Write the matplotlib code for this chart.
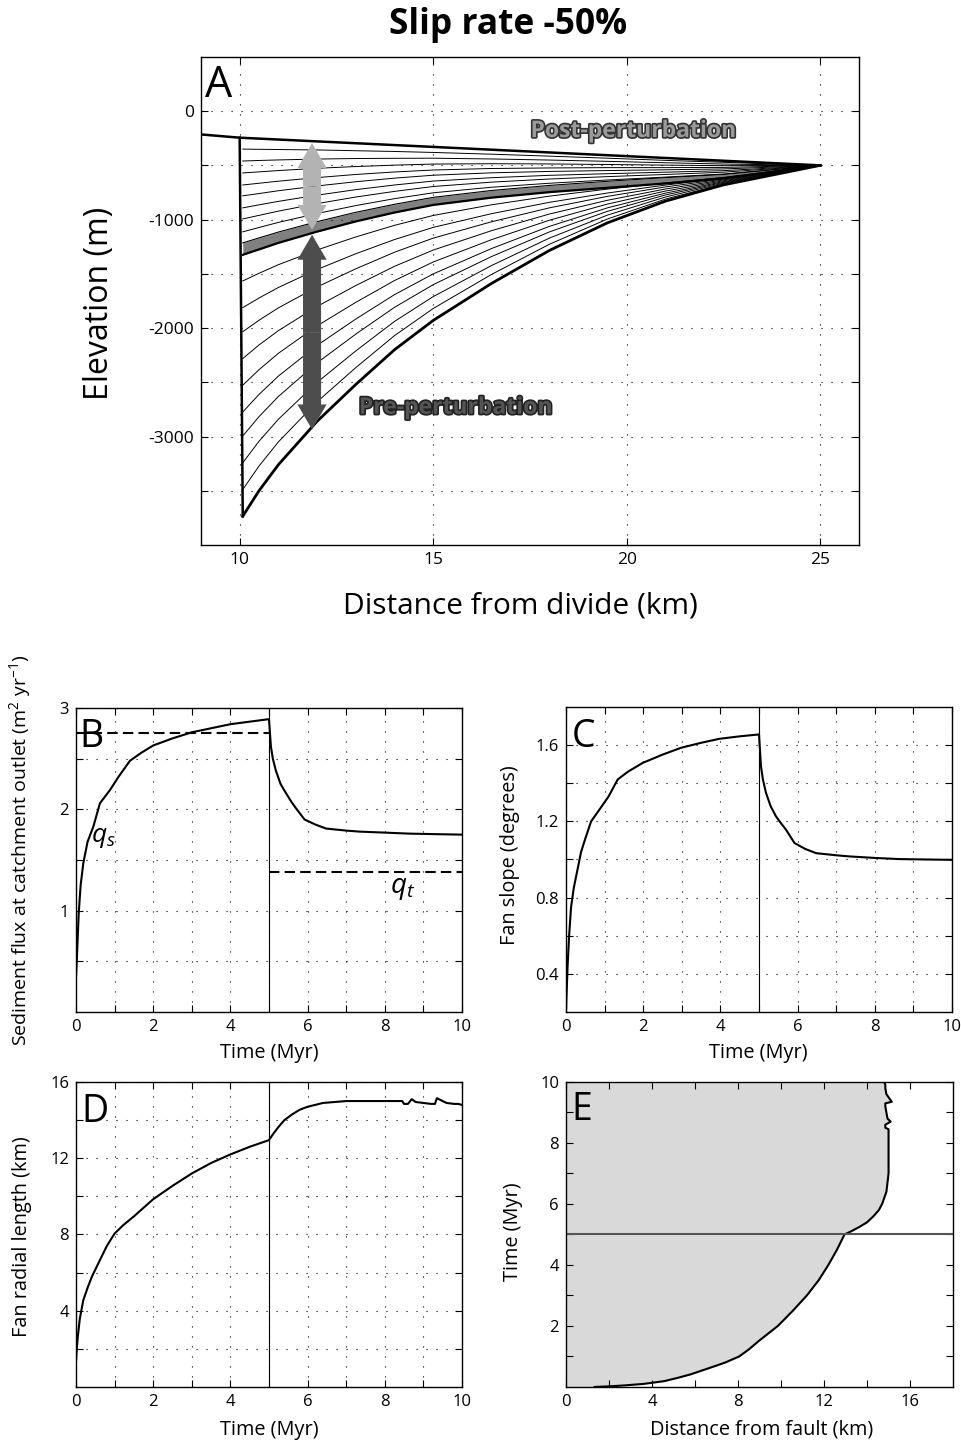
import numpy as np
import matplotlib
matplotlib.use('Agg')
import matplotlib.pyplot as plt
import matplotlib.patheffects as pe
from matplotlib.patches import FancyArrowPatch

plt.rcParams['font.family'] = 'Open Sans'
plt.rcParams['mathtext.fontset'] = 'custom'
plt.rcParams['mathtext.rm'] = 'Open Sans'
plt.rcParams['mathtext.it'] = 'Open Sans:italic'
plt.rcParams['axes.unicode_minus'] = False

# ---- panel A : long profiles (elevation in m at each distance station, km)
dist_km = [10.08, 10.5, 11, 12, 13, 14, 15, 16.5, 18, 19.5, 21, 22.5, 25]

# pre-perturbation profiles, first one is the initial (thick) profile
pre_profiles = [
    [-3735, -3500, -3260, -2860, -2520, -2200, -1930, -1590, -1285, -1030, -830, -680, -500],
    [-3489, -3272, -3050, -2680, -2365, -2070, -1820, -1507, -1228, -995, -811, -672, -500],
    [-3242, -3044, -2841, -2501, -2211, -1939, -1710, -1425, -1171, -959, -792, -664, -500],
    [-2995, -2817, -2631, -2321, -2056, -1809, -1600, -1342, -1114, -924, -773, -657, -500],
    [-2774, -2612, -2443, -2160, -1917, -1692, -1501, -1268, -1063, -892, -756, -650, -500],
    [-2527, -2384, -2233, -1980, -1763, -1562, -1391, -1186, -1006, -857, -737, -642, -500],
    [-2281, -2156, -2024, -1801, -1608, -1431, -1281, -1103, -949, -822, -718, -634, -500],
    [-2034, -1928, -1814, -1621, -1454, -1301, -1171, -1021, -892, -786, -699, -626, -500],
    [-1812, -1723, -1626, -1460, -1315, -1184, -1072, -946, -841, -755, -682, -619, -500],
    [-1566, -1495, -1416, -1280, -1160, -1053, -962, -864, -784, -719, -663, -611, -500],
]
# profile at the time of the perturbation (grey band)
band_top = [-1215, -1169, -1115, -1019, -933, -859, -795, -732, -685, -647, -613, -584, -500]
band_bot = [-1325, -1275, -1215, -1111, -1017, -935, -865, -798, -747, -707, -667, -620, -500]
# post-perturbation profiles
post_profiles = [
    [-1113, -1073, -1026, -944, -871, -807, -753, -702, -665, -635, -608, -580, -500],
    [-994, -961, -922, -853, -792, -740, -695, -655, -626, -604, -584, -563, -500],
    [-892, -864, -832, -775, -724, -681, -645, -614, -592, -577, -563, -549, -500],
    [-781, -760, -734, -690, -651, -618, -591, -569, -556, -548, -541, -533, -500],
    [-681, -665, -646, -613, -584, -561, -543, -529, -524, -521, -521, -519, -500],
    [-570, -560, -548, -527, -511, -498, -488, -485, -487, -492, -498, -503, -500],
    [-460, -455, -450, -442, -437, -435, -434, -441, -451, -463, -476, -488, -500],
    [-350, -352, -354, -358, -365, -372, -381, -397, -415, -434, -454, -472, -500],
]
final_x = [9, 10.0, 25]
final_z = [-215, -245, -500]
fault_x = [10.0, 10.08]
fault_z = [-245, -3735]

# ---- panel B : sediment flux
qs_time = [0, 0.02, 0.07, 0.12, 0.19, 0.3, 0.45, 0.62, 0.88, 1.1, 1.4, 1.7, 2.0,
           2.5, 3.0, 3.5, 4.0, 4.5, 5.0, 5.05, 5.1, 5.18, 5.3, 5.44, 5.57, 5.7,
           5.92, 6.2, 6.48, 7.0, 7.34, 8.0, 8.64, 9.3, 10.0]
qs_value = [0.35, 0.5, 0.97, 1.25, 1.47, 1.68, 1.83, 2.06, 2.19, 2.32, 2.48, 2.56,
            2.63, 2.70, 2.76, 2.80, 2.84, 2.865, 2.89, 2.62, 2.5, 2.38, 2.25, 2.16,
            2.08, 2.01, 1.9, 1.85, 1.81, 1.79, 1.78, 1.77, 1.76, 1.755, 1.75]
qt_pre = 2.75
qt_post = 1.38
t_perturb = 5.0
t_end = 10.0

# ---- panel C : fan slope
slope_time = [0, 0.02, 0.04, 0.08, 0.13, 0.2, 0.26, 0.39, 0.5, 0.65, 0.86, 1.1, 1.34,
              1.6, 1.99, 2.5, 2.98, 3.5, 3.97, 4.5, 5.0, 5.05, 5.1, 5.18, 5.3, 5.44,
              5.57, 5.7, 5.92, 6.2, 6.48, 7.0, 7.34, 8.0, 8.64, 9.3, 10.0]
slope_deg = [0.21, 0.33, 0.44, 0.6, 0.75, 0.85, 0.91, 1.04, 1.11, 1.2, 1.26, 1.33, 1.42,
             1.46, 1.507, 1.55, 1.586, 1.612, 1.633, 1.646, 1.656, 1.49, 1.42, 1.35,
             1.28, 1.226, 1.19, 1.156, 1.086, 1.055, 1.033, 1.022, 1.016, 1.008,
             1.002, 1.0, 0.998]

# ---- panels D and E : fan radial length
fan_time = [0, 0.02, 0.05, 0.1, 0.19, 0.3, 0.41, 0.62, 0.8, 1.0, 1.23, 1.5, 2.0, 2.5,
            3.0, 3.5, 4.0, 4.5, 5.0, 5.1, 5.25, 5.4, 5.6, 5.8, 6.0, 6.2, 6.4, 6.7,
            7.0, 7.5, 8.0, 8.45, 8.5, 8.6, 8.7, 8.8, 9.0, 9.2, 9.3, 9.35, 9.45, 9.6,
            9.8, 9.9, 10.0]
fan_length = [1.33, 2.0, 2.7, 3.6, 4.56, 5.2, 5.78, 6.66, 7.4, 8.05, 8.5, 8.95, 9.85,
              10.55, 11.2, 11.75, 12.2, 12.6, 12.95, 13.25, 13.65, 14.0, 14.3, 14.55,
              14.7, 14.8, 14.9, 14.95, 15.0, 15.0, 15.0, 15.0, 14.85, 14.85, 15.1,
              14.95, 14.9, 14.85, 14.85, 15.15, 15.05, 14.9, 14.85, 14.85, 14.8]


def matlab_style(ax, xticks, xlabels, yticks, ylabels, size=12, grid=True):
    ax.set_xticks(xticks)
    ax.set_xticklabels(xlabels)
    ax.set_yticks(yticks)
    ax.set_yticklabels(ylabels)
    ax.tick_params(direction='in', top=True, right=True, length=5, width=0.8,
                   labelsize=size, pad=5)
    if grid:
        ax.grid(True, color='k', linestyle=(0, (1, 8)), linewidth=0.8)
    for s in ax.spines.values():
        s.set_linewidth(1.0)


def lab(values, shown, fmt='{:g}'):
    return [fmt.format(v) if any(abs(v - s) < 1e-9 for s in shown) else '' for v in values]


fig = plt.figure(figsize=(9.62, 14.44), dpi=100)
fig.text(0.528, 1 - 25 / 1444, 'Slip rate -50%', ha='center', va='center',
         fontsize=25.5, fontweight='bold')

# ---------------- A
axA = fig.add_axes([0.2089, 0.6226, 0.684, 0.338])
for prof in pre_profiles[1:]:
    axA.plot(dist_km, prof, 'k', lw=0.7)
for prof in post_profiles:
    axA.plot(dist_km, prof, 'k', lw=0.7)
axA.fill_between(dist_km, band_bot, band_top, color='#808080', lw=0)
axA.plot(dist_km, band_bot, 'k', lw=1.6)
axA.plot(dist_km, band_top, 'k', lw=0.8)
axA.plot(dist_km, pre_profiles[0], 'k', lw=2.0)
axA.plot(final_x, final_z, 'k', lw=1.8)
axA.plot(fault_x, fault_z, 'k', lw=1.8)


def double_arrow(ax, x, y0, y1, color):
    ym = 0.5 * (y0 + y1)
    for yt in (y0, y1):
        ax.add_patch(FancyArrowPatch((x, ym), (x, yt),
                     arrowstyle='simple,head_length=0.9,head_width=1.05,tail_width=0.65',
                     mutation_scale=20, color=color, lw=0, shrinkA=0, shrinkB=0, zorder=5))


double_arrow(axA, 11.87, -294, -1095, '#b3b3b3')
double_arrow(axA, 11.87, -1140, -2935, '#4d4d4d')
axA.text(20.16, -184, 'Post-perturbation', ha='center', va='center', fontsize=16.5,
         fontweight='bold', color='#9a9a9a', zorder=6,
         path_effects=[pe.withStroke(linewidth=2.4, foreground='#333333')])
axA.text(15.57, -2735, 'Pre-perturbation', ha='center', va='center', fontsize=16.5,
         fontweight='bold', color='#555555', zorder=6,
         path_effects=[pe.withStroke(linewidth=2.4, foreground='#222222')])
axA.set_xlim(9, 26)
axA.set_ylim(-4000, 500)
ytA = list(range(-3500, 1, 500))
matlab_style(axA, [10, 15, 20, 25], ['10', '15', '20', '25'], ytA,
             lab(ytA, [0, -1000, -2000, -3000]), size=12.5)
axA.set_xlabel('Distance from divide (km)', fontsize=21.5, va='center')
axA.xaxis.set_label_coords(0.486, -0.125)
axA.set_ylabel('Elevation (m)', fontsize=23, va='center')
axA.yaxis.set_label_coords(-0.1535, 0.496)
axA.text(0.006, 0.918, 'A', transform=axA.transAxes, fontsize=31, va='baseline')

# ---------------- B
tx = list(range(0, 11))
txl = lab(tx, [0, 2, 4, 6, 8, 10])
axB = fig.add_axes([0.0790, 0.2992, 0.4012, 0.2105])
axB.plot(qs_time, qs_value, 'k', lw=1.5)
axB.axvline(t_perturb, color='k', lw=0.8)
axB.hlines(qt_pre, 0, t_perturb, colors='k', lw=1.5, linestyles=(0, (5, 2.5)))
axB.hlines(qt_post, t_perturb, t_end, colors='k', lw=1.5, linestyles=(0, (5, 2.5)))
axB.text(0.72, 1.72, '$q_s$', fontsize=19, ha='center', va='center')
axB.text(8.45, 1.22, '$q_t$', fontsize=20, ha='center', va='center')
axB.set_xlim(0, 10)
axB.set_ylim(0, 3)
ytB = [0.5, 1, 1.5, 2, 2.5, 3]
matlab_style(axB, tx, txl, ytB, lab(ytB, [1, 2, 3]))
axB.set_xlabel('Time (Myr)', fontsize=14.3, va='center')
axB.xaxis.set_label_coords(0.5, -0.135)
axB.set_ylabel('Sediment flux at catchment outlet (m$^2$ yr$^{-1}$)', fontsize=14, va='center')
axB.yaxis.set_label_coords(-0.145, 0.533)
axB.text(0.01, 0.872, 'B', transform=axB.transAxes, fontsize=27, va='baseline')

# ---------------- C
axC = fig.add_axes([0.5884, 0.2992, 0.4012, 0.2112])
axC.plot(slope_time, slope_deg, 'k', lw=1.5)
axC.axvline(t_perturb, color='k', lw=0.8)
axC.set_xlim(0, 10)
axC.set_ylim(0.2, 1.8)
ytC = [0.4, 0.6, 0.8, 1.0, 1.2, 1.4, 1.6]
matlab_style(axC, tx, txl, ytC, lab(ytC, [0.4, 0.8, 1.2, 1.6], '{:.1f}'))
axC.set_xlabel('Time (Myr)', fontsize=14.3, va='center')
axC.xaxis.set_label_coords(0.497, -0.135)
axC.set_ylabel('Fan slope (degrees)', fontsize=14.3, va='center')
axC.yaxis.set_label_coords(-0.145, 0.515)
axC.text(0.015, 0.869, 'C', transform=axC.transAxes, fontsize=27, va='baseline')

# ---------------- D
axD = fig.add_axes([0.0790, 0.0395, 0.4012, 0.2112])
axD.plot(fan_time, fan_length, 'k', lw=1.5)
axD.axvline(t_perturb, color='k', lw=0.8)
axD.set_xlim(0, 10)
axD.set_ylim(0, 16)
ytD = [2, 4, 6, 8, 10, 12, 14, 16]
matlab_style(axD, tx, txl, ytD, lab(ytD, [4, 8, 12, 16]))
axD.set_xlabel('Time (Myr)', fontsize=14.3, va='center')
axD.xaxis.set_label_coords(0.5, -0.141)
axD.set_ylabel('Fan radial length (km)', fontsize=14.3, va='center')
axD.yaxis.set_label_coords(-0.14, 0.492)
axD.text(0.015, 0.869, 'D', transform=axD.transAxes, fontsize=27, va='baseline')

# ---------------- E
axE = fig.add_axes([0.5884, 0.0395, 0.4023, 0.2112])
axE.fill_betweenx(fan_time, 0, fan_length, color='#d9d9d9', lw=0)
axE.plot(fan_length, fan_time, 'k', lw=1.5)
axE.axhline(t_perturb, color='#555555', lw=1.5)
axE.set_xlim(0, 18)
axE.set_ylim(0, 10)
xtE = [0, 2, 4, 6, 8, 10, 12, 14, 16]
ytE = [1, 2, 3, 4, 5, 6, 7, 8, 9, 10]
matlab_style(axE, xtE, lab(xtE, [0, 4, 8, 12, 16]), ytE, lab(ytE, [2, 4, 6, 8, 10]), grid=False)
axE.set_xlabel('Distance from fault (km)', fontsize=14.3, va='center')
axE.xaxis.set_label_coords(0.506, -0.141)
axE.set_ylabel('Time (Myr)', fontsize=14.3, va='center')
axE.yaxis.set_label_coords(-0.137, 0.508)
axE.text(0.015, 0.875, 'E', transform=axE.transAxes, fontsize=27, va='baseline')

fig.savefig('out.png', dpi=100)
